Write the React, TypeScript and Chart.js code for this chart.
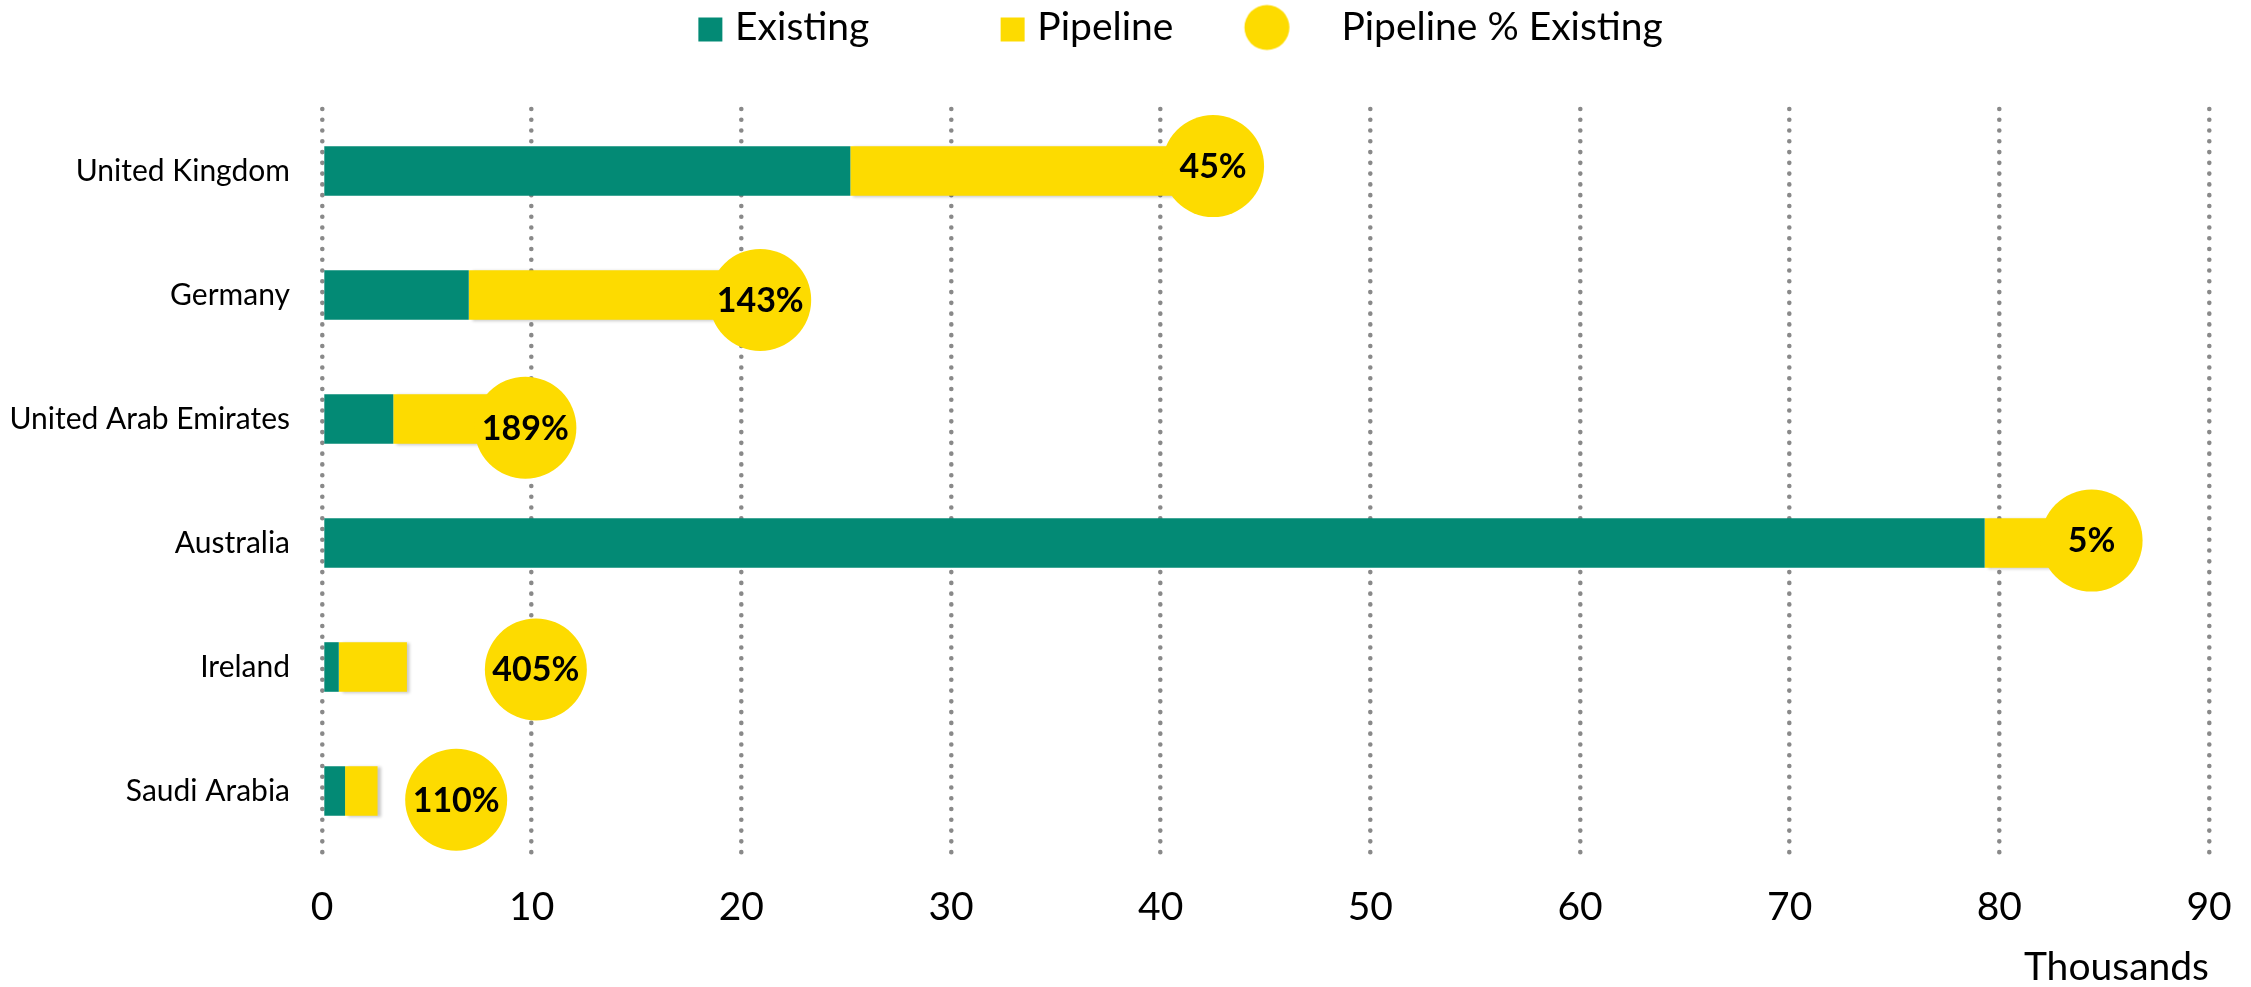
import { useEffect, useRef } from "react";
import { Chart, registerables } from "chart.js";

Chart.register(...registerables);

// ---------- data ----------
const categories = [
  "United Kingdom",
  "Germany",
  "United Arab Emirates",
  "Australia",
  "Ireland",
  "Saudi Arabia",
];
const existing = [25.2, 7.0, 3.4, 79.3, 0.8, 1.1];
const pipeline = [17.0, 13.5, 6.1, 4.5, 3.25, 1.55];
const pctLabels = ["45%", "143%", "189%", "5%", "405%", "110%"];
const bubbleX = [42.5, 20.9, 9.7, 84.4, 10.2, 6.4];
const bubbleY = [-0.04, 1.04, 2.07, 2.98, 4.02, 5.07];
const legendLabels = ["Existing", "Pipeline", "Pipeline % Existing"];
const axisTitle = "Thousands";
const xMin = 0;
const xMax = 90;
const xStep = 10;

// ---------- style ----------
const TEAL = "#038A75";
const YELLOW = "#FDDB00";
const GRID = "#898989";
const FONT = "Lato, 'Open Sans', 'DejaVu Sans', sans-serif";
const W = 2251;
const H = 987;

function makeIcon(kind: "square-teal" | "square-yellow" | "circle"): HTMLCanvasElement {
  const c = document.createElement("canvas");
  c.width = 160;
  c.height = 52;
  const g = c.getContext("2d")!;
  if (kind === "circle") {
    g.fillStyle = YELLOW;
    g.beginPath();
    g.arc(95.25, 26, 22.5, 0, Math.PI * 2);
    g.fill();
  } else {
    g.fillStyle = kind === "square-teal" ? TEAL : YELLOW;
    g.fillRect(133, 16, 24, 24);
  }
  return c;
}

const labelPlugin = {
  id: "bubbleLabels",
  beforeDraw(chart: any) {
    chart.ctx.lineCap = "round";
  },
  beforeDatasetDraw(chart: any, args: any) {
    if (args.index === 1) {
      const ctx = chart.ctx;
      ctx.save();
      ctx.shadowColor = "rgba(0,0,0,0.22)";
      ctx.shadowOffsetX = 3;
      ctx.shadowOffsetY = 1;
      ctx.shadowBlur = 3;
    }
  },
  afterDatasetDraw(chart: any, args: any) {
    if (args.index === 1) chart.ctx.restore();
  },
  afterDatasetsDraw(chart: any) {
    const meta = chart.getDatasetMeta(2);
    const ctx = chart.ctx;
    ctx.save();
    ctx.font = `bold 34px ${FONT}`;
    ctx.fillStyle = "#000";
    ctx.textAlign = "center";
    ctx.textBaseline = "middle";
    meta.data.forEach((pt: any, i: number) => {
      ctx.fillText(pctLabels[i], pt.x, pt.y + 1);
    });
    ctx.restore();
  },
};

export default function App() {
  const ref = useRef<HTMLCanvasElement>(null);

  useEffect(() => {
    document.body.style.margin = "0";
    const icons = [makeIcon("square-teal"), makeIcon("square-yellow"), makeIcon("circle")];
    const chart = new Chart(ref.current!, {
      type: "bar",
      data: {
        labels: categories,
        datasets: [
          {
            label: legendLabels[0],
            data: existing,
            backgroundColor: TEAL,
            xAxisID: "x",
            yAxisID: "y",
            barPercentage: 0.4,
            categoryPercentage: 1,
            grouped: false,
            stack: "s",
            borderWidth: 0,
          },
          {
            label: legendLabels[1],
            data: pipeline,
            backgroundColor: YELLOW,
            xAxisID: "x",
            yAxisID: "y",
            barPercentage: 0.4,
            categoryPercentage: 1,
            grouped: false,
            stack: "s",
            borderWidth: 0,
          },
          {
            type: "scatter",
            label: legendLabels[2],
            data: bubbleX.map((x, i) => ({ x, y: bubbleY[i] })),
            xAxisID: "x",
            yAxisID: "y2",
            indexAxis: "x",
            pointRadius: 51,
            pointHoverRadius: 51,
            backgroundColor: YELLOW,
            borderWidth: 0,
            showLine: false,
            clip: false,
            order: -1,
          } as any,
        ],
      },
      options: {
        indexAxis: "y",
        responsive: false,
        animation: false,
        events: [],
        layout: { autoPadding: false, padding: { left: 0, right: 13, top: 0, bottom: 0 } },
        plugins: {
          tooltip: { enabled: false },
          legend: {
            position: "top",
            align: "center",
            labels: {
              usePointStyle: true,
              pointStyleWidth: 140.5,
              padding: 8,
              color: "#000",
              font: { size: 39, family: FONT },
              generateLabels: () =>
                legendLabels.map((text, i) => ({
                  text,
                  pointStyle: icons[i],
                  fillStyle: "rgba(0,0,0,0)",
                  strokeStyle: "rgba(0,0,0,0)",
                  lineWidth: 0,
                  hidden: false,
                  datasetIndex: i,
                  fontColor: "#000",
                })) as any,
            },
          },
        },
        scales: {
          x: {
            type: "linear",
            position: "bottom",
            min: xMin,
            max: xMax,
            stacked: true,
            ticks: {
              stepSize: xStep,
              color: "#000",
              font: { size: 39, family: FONT, lineHeight: 2.03 },
              padding: 15,
            },
            grid: { color: GRID, lineWidth: 4.6, drawTicks: false },
            border: { display: false, dash: [0, 10.77] },
            title: {
              display: true,
              text: axisTitle,
              align: "end",
              color: "#000",
              font: { size: 39, family: FONT, lineHeight: 1 },
              padding: { top: 0, bottom: 0 },
            },
            afterFit: (s: any) => {
              s.height = 134;
              s.paddingLeft = 0;
              s.paddingRight = 0;
            },
          },
          xTop: {
            type: "linear",
            position: "top",
            display: true,
            min: 0,
            max: 1,
            ticks: { display: false },
            grid: { display: false, drawTicks: false },
            border: { display: false },
            afterFit: (s: any) => {
              s.height = 52;
              s.paddingLeft = 0;
              s.paddingRight = 0;
            },
          },
          y: {
            type: "category",
            stacked: true,
            offset: true,
            grid: { display: false, drawTicks: false },
            border: { display: false },
            ticks: {
              color: "#000",
              font: { size: 30, family: FONT },
              padding: 32,
            },
            afterFit: (s: any) => {
              s.width = 322;
            },
          },
          y2: {
            type: "linear",
            position: "right",
            display: true,
            offset: false,
            min: -0.5,
            max: 5.5,
            reverse: true,
            ticks: { display: false },
            grid: { display: false, drawTicks: false },
            border: { display: false },
            afterFit: (s: any) => {
              s.width = 29;
            },
          },
        } as any,
      },
      plugins: [labelPlugin],
    });
    return () => chart.destroy();
  }, []);

  return (
    <div style={{ width: W, height: H, overflow: "hidden", background: "#fff" }}>
      <canvas ref={ref} width={W} height={H} style={{ display: "block" }} />
    </div>
  );
}
